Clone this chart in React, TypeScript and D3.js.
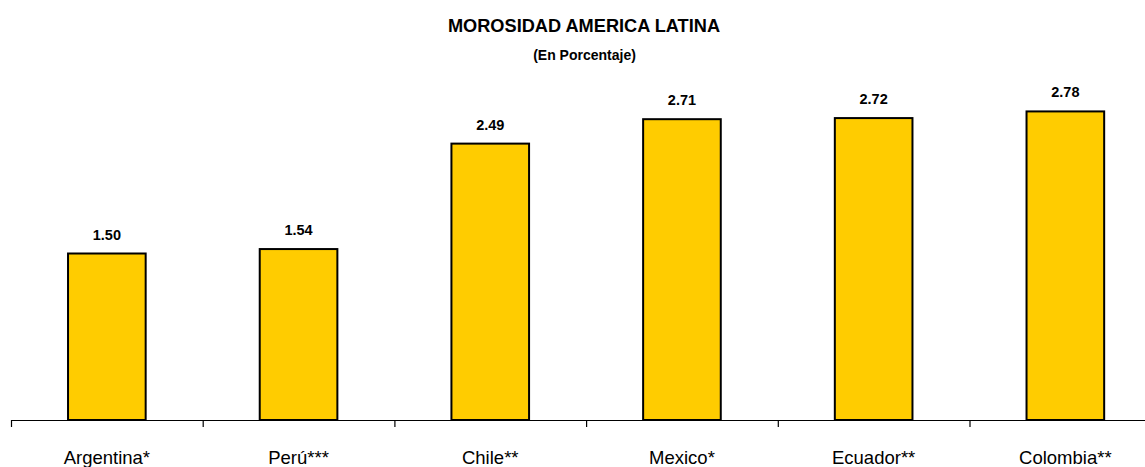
import React from "react";
import * as d3 from "d3";

const categories = ["Argentina*", "Perú***", "Chile**", "Mexico*", "Ecuador**", "Colombia**"];
const values = [1.5, 1.54, 2.49, 2.71, 2.72, 2.78];
const valueLabels = ["1.50", "1.54", "2.49", "2.71", "2.72", "2.78"];
const title = "MOROSIDAD AMERICA LATINA";
const subtitle = "(En Porcentaje)";

const W = 1145;
const H = 467;
const FONT = "'Liberation Sans', Arial, sans-serif";

export default function App() {
  const x = d3.scaleBand<string>().domain(categories).range([11, 11 + 6 * 191.7]).padding(0);
  const y = d3.scaleLinear().domain([0, 3.5]).range([420, 420 - 3.5 * 111]);
  const bw = x.bandwidth() * 0.405;
  const ticks = categories.map((c) => x(c) as number);

  return (
    <svg
      width={W}
      height={H}
      style={{ position: "absolute", left: 0, top: 0, background: "#fff" }}
      fontFamily={FONT}
    >
      <rect x={0} y={0} width={W} height={H} fill="#fff" />
      <text x={584} y={32} textAnchor="middle" fontSize={18.2} fontWeight="bold" fill="#000">
        {title}
      </text>
      <text x={584.5} y={60} textAnchor="middle" fontSize={14} fontWeight="bold" fill="#000">
        {subtitle}
      </text>
      {categories.map((c, i) => {
        const cx = (x(c) as number) + x.bandwidth() / 2;
        return (
          <g key={c}>
            <rect
              x={cx - bw / 2}
              y={y(values[i])}
              width={bw}
              height={y(0) - y(values[i])}
              fill="#FFCC00"
              stroke="#000"
              strokeWidth={2}
            />
            <text
              x={cx}
              y={y(values[i]) - 14}
              textAnchor="middle"
              fontSize={14.5}
              fontWeight="bold"
              fill="#000"
            >
              {valueLabels[i]}
            </text>
            <text x={cx} y={464} textAnchor="middle" fontSize={18.5} fill="#000">
              {c}
            </text>
          </g>
        );
      })}
      <line x1={11} x2={W} y1={y(0) + 0.5} y2={y(0) + 0.5} stroke="#000" strokeWidth={1.2} />
      {ticks.map((t, i) => (
        <line key={i} x1={t + 0.5} x2={t + 0.5} y1={y(0)} y2={y(0) + 7} stroke="#000" strokeWidth={1.2} />
      ))}
    </svg>
  );
}
